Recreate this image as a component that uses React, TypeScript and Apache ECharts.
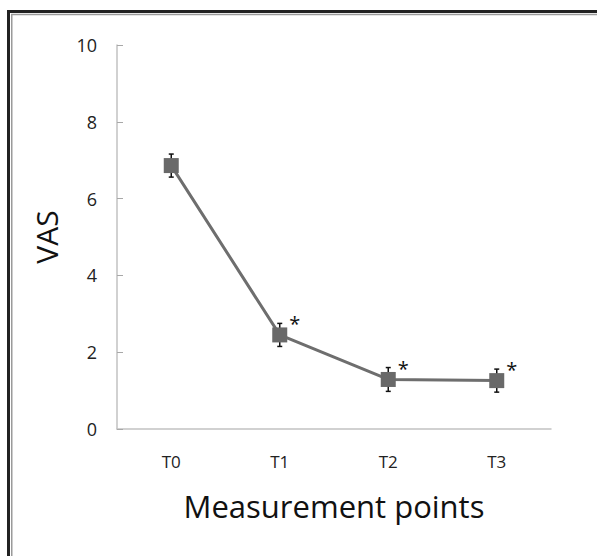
import React, { useEffect, useRef } from "react";
import * as echarts from "echarts";

const categories = ["T0", "T1", "T2", "T3"];
const vasMean = [6.86, 2.45, 1.29, 1.26];
const vasErr = [0.3, 0.3, 0.31, 0.3];
const significant = [false, true, true, true];
const yTicks = { min: 0, max: 10, interval: 2 };

const FONT = "'Open Sans', 'Noto Sans', sans-serif";

export default function App() {
  const ref = useRef<HTMLDivElement>(null);
  useEffect(() => {
    document.body.style.margin = "0";
    const chart = echarts.init(ref.current!, null, { renderer: "svg" });
    const errData = categories.map((c, i) => [i, vasMean[i], vasErr[i], significant[i] ? 1 : 0]);
    chart.setOption({
      animation: false,
      backgroundColor: "#ffffff",
      grid: { left: 117, right: 46, top: 45, bottom: 127, outerBoundsMode: "none" },
      xAxis: {
        type: "category",
        data: categories,
        boundaryGap: true,
        name: "Measurement points",
        nameLocation: "middle",
        nameGap: 61,
        nameTextStyle: { fontFamily: FONT, fontSize: 31, color: "#111" },
        axisLine: { lineStyle: { color: "#c2c2c2", width: 1.5 } },
        axisTick: { inside: true, length: 5, alignWithLabel: true, lineStyle: { color: "#a8a8a8", width: 1 } },
        axisLabel: { margin: 24, fontFamily: FONT, fontSize: 17, color: "#222" },
        splitLine: { show: false },
      },
      yAxis: {
        type: "value",
        min: yTicks.min,
        max: yTicks.max,
        interval: yTicks.interval,
        name: "VAS",
        nameLocation: "middle",
        nameGap: 56,
        nameTextStyle: { fontFamily: FONT, fontSize: 30, color: "#111" },
        axisLine: { show: true, lineStyle: { color: "#c2c2c2", width: 1.5 } },
        axisTick: { show: true, inside: true, length: 6, lineStyle: { color: "#a8a8a8", width: 1 } },
        axisLabel: { margin: 20, fontFamily: FONT, fontSize: 18, color: "#222" },
        splitLine: { show: false },
      },
      series: [
        {
          type: "custom",
          z: 1,
          data: errData,
          renderItem: (params: any, api: any) => {
            const x = api.value(0);
            const m = api.value(1);
            const e = api.value(2);
            const star = api.value(3);
            const top = api.coord([x, m + e]);
            const bot = api.coord([x, m - e]);
            const ctr = api.coord([x, m]);
            const cw = 2.5;
            const children: any[] = [
              { type: "line", shape: { x1: top[0], y1: top[1], x2: bot[0], y2: bot[1] }, style: { stroke: "#111", lineWidth: 1.5 } },
              { type: "line", shape: { x1: top[0] - cw, y1: top[1], x2: top[0] + cw, y2: top[1] }, style: { stroke: "#111", lineWidth: 1.5 } },
              { type: "line", shape: { x1: bot[0] - cw, y1: bot[1], x2: bot[0] + cw, y2: bot[1] }, style: { stroke: "#111", lineWidth: 1.5 } },
            ];
            if (star) {
              children.push({
                type: "text",
                x: ctr[0] + 15,
                y: ctr[1] - 11,
                style: { text: "*", fontFamily: FONT, fontSize: 20, fill: "#111", align: "center", verticalAlign: "middle" },
              });
            }
            return { type: "group", children };
          },
        },
        {
          type: "line",
          z: 2,
          data: vasMean,
          symbol: "rect",
          symbolSize: 15,
          lineStyle: { color: "#6e6e6e", width: 3 },
          itemStyle: { color: "#696969" },
        },
      ],
      graphic: [
        { type: "line", shape: { x1: 7, y1: 11.5, x2: 597, y2: 11.5 }, style: { stroke: "#222", lineWidth: 3 } },
        { type: "line", shape: { x1: 8.5, y1: 10, x2: 8.5, y2: 556 }, style: { stroke: "#222", lineWidth: 3 } },
        { type: "line", shape: { x1: 11, y1: 14.5, x2: 597, y2: 14.5 }, style: { stroke: "#9a9a9a", lineWidth: 1.5 } },
        { type: "line", shape: { x1: 11.75, y1: 14, x2: 11.75, y2: 556 }, style: { stroke: "#9a9a9a", lineWidth: 1.5 } },
      ],
    });
    return () => chart.dispose();
  }, []);
  return <div ref={ref} style={{ width: 597, height: 556 }} />;
}
